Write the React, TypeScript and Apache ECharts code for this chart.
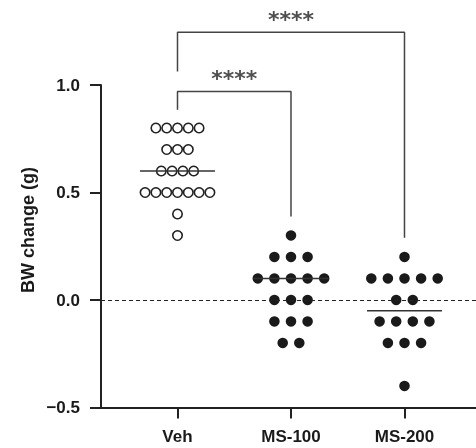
import React, { useEffect, useRef } from "react";
import * as echarts from "echarts";

const categories = ["Veh", "MS-100", "MS-200"];
const vehValues = [0.8, 0.8, 0.8, 0.8, 0.8, 0.7, 0.7, 0.7, 0.6, 0.6, 0.6, 0.6, 0.5, 0.5, 0.5, 0.5, 0.5, 0.5, 0.5, 0.4, 0.3];
const ms100Values = [0.3, 0.2, 0.2, 0.2, 0.1, 0.1, 0.1, 0.1, 0.1, 0, 0, 0, -0.1, -0.1, -0.1, -0.2, -0.2];
const ms200Values = [0.2, 0.1, 0.1, 0.1, 0.1, 0.1, 0, 0, -0.1, -0.1, -0.1, -0.1, -0.2, -0.2, -0.2, -0.4];
const yTicks = [-0.5, 0, 0.5, 1.0];
const yTitle = "BW change (g)";
// significance brackets: from group, to group, bracket level, leg ends, label
const bracketFrom = [0, 0];
const bracketTo = [1, 2];
const bracketLevel = [0.97, 1.245];
const bracketLegFrom = [0.885, 1.063];
const bracketLegTo = [0.388, 0.289];
const bracketLabel = ["****", "****"];

const PX_PER_UNIT = 113.5;
const FONT = "'Liberation Sans', Arial, Helvetica, sans-serif";

function swarm(values: number[], center: number, spacingPx: number) {
  const rows = new Map<string, number>();
  values.forEach((v) => rows.set(v.toFixed(2), (rows.get(v.toFixed(2)) || 0) + 1));
  const seen = new Map<string, number>();
  const step = spacingPx / PX_PER_UNIT;
  return values.map((v) => {
    const k = v.toFixed(2);
    const n = rows.get(k) || 1;
    const i = seen.get(k) || 0;
    seen.set(k, i + 1);
    return [center + (i - (n - 1) / 2) * step, v];
  });
}

function median(values: number[]) {
  const s = [...values].sort((a, b) => a - b);
  const m = Math.floor(s.length / 2);
  return s.length % 2 ? s[m] : (s[m - 1] + s[m]) / 2;
}

export default function App() {
  const ref = useRef<HTMLDivElement>(null);
  useEffect(() => {
    if (!ref.current) return;
    const chart = echarts.init(ref.current, null, { renderer: "svg" });
    const groups = [vehValues, ms100Values, ms200Values];
    const halfW = 0.33;
    const medianSeries = groups.map((g, i) => {
      const m = median(g);
      return {
        type: "line",
        data: [[i - halfW, m], [i + halfW, m]],
        symbol: "none",
        lineStyle: { color: "#333", width: 1.5 },
        z: 4,
        silent: true,
      };
    });
    const bracketSeries = bracketFrom.map((f, i) => ({
      type: "line",
      clip: false,
      symbol: "none",
      data: [
        [f, bracketLegFrom[i]],
        [f, bracketLevel[i]],
        [bracketTo[i], bracketLevel[i]],
        [bracketTo[i], bracketLegTo[i]],
      ],
      lineStyle: { color: "#444", width: 1.5 },
      silent: true,
    }));
    const starSeries = {
      type: "scatter",
      clip: false,
      symbolSize: 0,
      data: bracketFrom.map((f, i) => ({
        value: [(f + bracketTo[i]) / 2, bracketLevel[i]],
        label: {
          show: true,
          formatter: bracketLabel[i],
          position: "inside",
          offset: [0, -13],
          fontFamily: "'DejaVu Sans', sans-serif",
          fontWeight: "bold",
          fontSize: 22,
          color: "#222",
        },
      })),
      silent: true,
    };
    const option = {
      animation: false,
      grid: { left: 101, right: 0, top: 85, bottom: 40.5 },
      xAxis: {
        type: "value",
        min: -0.674,
        max: 2.63,
        axisLine: { onZero: false, lineStyle: { color: "#222", width: 2 } },
        axisTick: { show: true, customValues: [0, 1, 2], length: 11, lineStyle: { color: "#222", width: 2 } },
        axisLabel: {
          customValues: [0, 1, 2],
          formatter: (v: number) => categories[Math.round(v)],
          fontFamily: FONT,
          fontWeight: "bold",
          fontSize: 17,
          color: "#1a1a1a",
          margin: 20,
        },
        splitLine: { show: false },
      },
      yAxis: {
        type: "value",
        min: -0.5,
        max: 1.0,
        interval: 0.5,
        axisLine: { show: true, onZero: false, lineStyle: { color: "#222", width: 2 } },
        axisTick: { show: true, customValues: yTicks, length: 11, lineStyle: { color: "#222", width: 2 } },
        axisLabel: {
          customValues: yTicks,
          formatter: (v: number) => (v < 0 ? "\u2212" + Math.abs(v).toFixed(1) : v.toFixed(1)),
          fontFamily: FONT,
          fontWeight: "bold",
          fontSize: 17,
          color: "#1a1a1a",
          margin: 21,
        },
        splitLine: { show: false },
      },
      graphic: [
        {
          type: "text",
          x: 28,
          y: 230,
          rotation: Math.PI / 2,
          style: {
            text: yTitle,
            fontFamily: FONT,
            fontWeight: "bold",
            fontSize: 18,
            fill: "#1a1a1a",
            align: "center",
            verticalAlign: "middle",
          },
        },
      ],
      series: [
        {
          type: "scatter",
          data: swarm(vehValues, 0, 10.8),
          symbol: "circle",
          symbolSize: 9.5,
          itemStyle: { color: "#fff", borderColor: "#222", borderWidth: 1.6, opacity: 1 },
          z: 3,
        },
        {
          type: "scatter",
          data: swarm(ms100Values, 1, 16.6),
          symbol: "circle",
          symbolSize: 10.5,
          itemStyle: { color: "#1a1a1a", opacity: 1 },
          z: 3,
          markLine: {
            silent: true,
            symbol: ["none", "none"],
            label: { show: false },
            lineStyle: { color: "#222", width: 1.2, type: [4, 3] },
            data: [{ yAxis: 0 }],
          },
        },
        {
          type: "scatter",
          data: swarm(ms200Values, 2, 16.6),
          symbol: "circle",
          symbolSize: 10.5,
          itemStyle: { color: "#1a1a1a", opacity: 1 },
          z: 3,
        },
        ...medianSeries,
        ...bracketSeries,
        starSeries,
      ],
    };
    chart.setOption(option as any);
    return () => chart.dispose();
  }, []);
  return <div ref={ref} style={{ position: "fixed", left: 0, top: 0, width: 476, height: 448 }} />;
}
